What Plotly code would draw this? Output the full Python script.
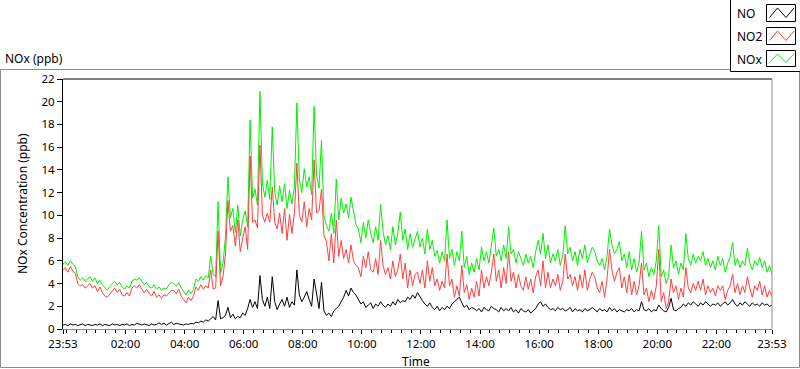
import plotly.graph_objects as go
import pandas as pd

# ---------------- data (5-minute samples, 23:53 -> 23:53 next day) ----------------
start_time = "2013-06-10 23:53"
n_points = 289
step = "5min"

nox = [
    5.7, 5.9, 5.6, 6.0, 5.7, 5.5, 4.6, 4.3, 4.5, 4.2, 4.4, 4.6,
    4.2, 4.5, 4.0, 4.3, 3.9, 3.6, 3.4, 3.7, 4.0, 4.2, 3.9, 4.1,
    3.7, 3.5, 3.8, 3.6, 4.2, 4.4, 4.3, 4.5, 4.2, 3.9, 4.1, 3.7,
    3.6, 3.9, 3.5, 3.7, 3.4, 3.6, 3.5, 3.9, 4.1, 4.0, 3.8, 4.1,
    3.6, 3.3, 3.0, 3.4, 3.1, 3.5, 4.4, 4.2, 4.6, 4.3, 4.7, 4.5,
    6.4, 4.8, 4.6, 11.2, 4.9, 5.8, 8.1, 13.4, 9.8, 10.6, 8.5, 10.9,
    8.2, 9.6, 10.4, 9.0, 18.4, 11.5, 12.3, 10.9, 20.9, 12.8, 11.6, 13.1,
    11.4, 17.8, 12.0, 10.9, 12.6, 11.2, 12.8, 10.6, 12.2, 11.0, 12.5, 19.9,
    13.2, 12.0, 14.1, 12.5, 13.4, 11.8, 19.6, 13.5, 12.4, 16.6, 10.0, 9.1,
    8.6, 10.2, 8.4, 13.2, 9.6, 11.5, 10.2, 11.0, 9.8, 11.6, 10.4, 9.2,
    8.8, 7.6, 9.4, 8.0, 9.6, 8.4, 7.6, 9.0, 7.8, 11.0, 8.6, 7.4,
    8.2, 7.0, 9.0, 7.4, 8.4, 10.3, 7.8, 8.8, 7.0, 8.4, 7.2, 8.0,
    8.6, 7.2, 8.0, 6.6, 8.8, 7.0, 7.8, 6.4, 6.9, 5.8, 6.8, 6.0,
    9.6, 6.2, 7.0, 5.6, 6.8, 6.0, 8.6, 5.4, 6.4, 4.8, 5.8, 5.0,
    6.2, 5.2, 7.2, 6.0, 6.8, 5.8, 7.4, 8.9, 6.4, 7.0, 6.0, 7.4,
    6.2, 9.0, 6.6, 7.0, 5.8, 6.8, 6.2, 5.6, 6.6, 5.8, 6.4, 5.4,
    6.8, 7.8, 6.6, 8.4, 6.2, 7.4, 5.8, 6.6, 6.0, 7.0, 5.6, 6.4,
    9.1, 6.6, 7.2, 6.0, 6.8, 5.6, 7.0, 6.2, 7.4, 5.8, 6.6, 7.2,
    6.8, 6.0, 5.6, 6.2, 5.2, 6.4, 8.8, 7.4, 6.6, 7.0, 7.7, 6.0,
    6.6, 5.4, 6.8, 5.2, 6.2, 5.0, 5.8, 8.6, 5.2, 5.8, 4.6, 5.4,
    4.8, 6.0, 9.1, 4.6, 5.2, 4.0, 4.6, 7.4, 5.4, 6.0, 4.8, 5.8,
    5.2, 8.4, 6.2, 5.6, 6.6, 5.8, 6.4, 6.0, 6.8, 5.6, 6.2, 5.4,
    6.0, 5.2, 6.4, 5.6, 6.2, 5.0, 5.8, 6.4, 7.6, 5.6, 6.2, 5.4,
    6.0, 5.6, 7.1, 5.8, 5.2, 6.0, 5.6, 6.3, 5.4, 6.0, 5.0, 5.6,
    4.8,
]

no2 = [
    5.2, 5.4, 5.0, 5.5, 5.1, 4.9, 4.0, 3.8, 3.9, 3.6, 3.8, 4.0,
    3.6, 3.8, 3.3, 3.7, 3.2, 2.9, 2.8, 3.1, 3.4, 3.6, 3.2, 3.5,
    3.0, 2.9, 3.2, 2.9, 3.6, 3.8, 3.6, 3.9, 3.5, 3.2, 3.5, 3.1,
    2.9, 3.3, 2.8, 3.0, 2.7, 3.0, 2.9, 3.2, 3.4, 3.4, 3.1, 3.5,
    2.9, 2.6, 2.3, 2.8, 2.5, 2.9, 3.7, 3.4, 3.9, 3.5, 3.8, 3.6,
    5.2, 3.5, 3.6, 8.6, 3.8, 4.6, 6.6, 11.3, 8.6, 9.1, 7.3, 9.6,
    6.8, 8.0, 9.0, 7.0, 15.2, 9.4, 9.6, 8.9, 16.2, 10.0, 9.4, 10.2,
    9.4, 12.5, 9.4, 8.8, 10.2, 8.4, 10.6, 7.8, 10.1, 8.4, 10.2, 14.6,
    10.0, 9.4, 11.2, 9.0, 10.6, 9.6, 14.9, 10.2, 10.4, 12.3, 8.2, 7.7,
    6.0, 8.4, 5.8, 9.6, 6.4, 7.8, 6.2, 7.0, 5.8, 7.4, 6.0, 5.6,
    5.4, 4.6, 6.4, 5.4, 6.8, 5.2, 5.0, 6.2, 4.8, 7.8, 5.6, 4.8,
    5.4, 4.4, 6.0, 4.6, 5.2, 6.6, 4.4, 5.8, 3.6, 5.2, 3.8, 4.8,
    5.0, 4.0, 5.2, 3.6, 6.0, 4.2, 5.4, 3.8, 4.4, 3.4, 4.2, 3.6,
    6.6, 3.8, 4.4, 2.8, 3.8, 2.9, 5.6, 3.2, 3.9, 2.6, 3.6, 2.8,
    4.2, 2.9, 5.2, 3.6, 4.6, 3.8, 5.0, 6.6, 4.2, 5.2, 3.6, 5.4,
    4.0, 6.8, 4.2, 5.0, 3.6, 4.8, 3.8, 3.4, 4.6, 3.5, 4.4, 3.2,
    4.6, 5.2, 3.8, 6.0, 3.6, 5.0, 3.6, 4.4, 3.8, 4.8, 3.4, 4.2,
    6.6, 4.4, 4.8, 3.8, 4.6, 3.4, 4.8, 3.6, 5.2, 3.4, 4.4, 5.0,
    4.6, 3.6, 3.2, 4.2, 2.8, 4.4, 7.0, 5.2, 4.2, 5.0, 5.4, 3.6,
    4.6, 3.2, 4.8, 3.0, 4.2, 3.0, 3.8, 5.8, 3.0, 3.6, 2.4, 3.4,
    2.6, 3.8, 7.0, 2.4, 3.2, 1.8, 2.4, 4.4, 3.2, 3.8, 2.6, 3.6,
    2.8, 5.4, 3.6, 3.2, 4.0, 3.4, 4.2, 3.4, 4.4, 3.0, 3.8, 3.2,
    3.6, 2.9, 3.8, 3.4, 3.8, 2.6, 3.4, 3.8, 4.8, 3.2, 4.0, 3.0,
    3.8, 3.2, 4.6, 3.6, 2.8, 3.8, 3.4, 4.2, 3.0, 3.8, 2.8, 3.4,
    2.8,
]

no = [
    0.35, 0.4, 0.3, 0.45, 0.35, 0.4, 0.3, 0.35, 0.45, 0.3, 0.4, 0.35,
    0.3, 0.4, 0.35, 0.45, 0.3, 0.4, 0.35, 0.3, 0.45, 0.35, 0.4, 0.3,
    0.4, 0.35, 0.45, 0.3, 0.4, 0.35, 0.5, 0.4, 0.35, 0.45, 0.4, 0.3,
    0.45, 0.35, 0.4, 0.55, 0.4, 0.5, 0.35, 0.45, 0.6, 0.4, 0.5, 0.45,
    0.4, 0.35, 0.45, 0.4, 0.5, 0.45, 0.6, 0.55, 0.7, 0.6, 0.8, 0.7,
    0.9, 1.1, 0.8, 2.5, 0.9, 1.0, 1.2, 1.9, 1.0, 1.3, 0.9, 1.1,
    1.0, 1.4, 1.2, 1.8, 2.6, 1.9, 2.4, 1.8, 4.7, 2.6, 2.0, 2.8,
    1.8, 4.6, 2.4, 1.7, 2.2, 2.6, 2.0, 2.8, 1.9, 2.4, 2.1, 5.2,
    3.0, 2.4, 2.8, 3.3, 2.6, 2.0, 4.4, 3.2, 1.8, 4.1, 1.6, 1.2,
    1.4, 1.1, 1.6, 1.8, 2.0, 2.4, 2.8, 3.4, 2.9, 3.6, 3.2, 3.0,
    2.6, 2.2, 2.4, 1.9, 2.1, 2.3, 1.8, 2.2, 2.0, 2.4, 2.1, 1.9,
    2.2, 2.0, 2.4, 2.1, 2.6, 2.3, 2.5, 2.4, 2.8, 2.6, 3.0, 2.7,
    3.2, 2.8, 2.5, 2.2, 2.0, 2.3, 1.9, 1.7, 2.0, 1.6, 1.9, 1.7,
    2.0, 1.8, 2.2, 2.4, 2.6, 2.8, 2.3, 1.9, 2.1, 1.7, 1.9, 1.8,
    1.6, 1.8, 1.5, 1.9, 1.7, 1.6, 2.0, 1.8, 1.7, 1.5, 1.9, 1.6,
    1.8, 1.6, 1.9, 1.5, 1.7, 1.4, 1.8, 1.6, 1.5, 1.7, 1.4, 1.6,
    1.8, 2.2, 2.4, 2.0, 2.2, 1.9, 1.7, 1.8, 1.6, 1.9, 1.7, 1.8,
    1.6, 1.7, 1.9, 1.5, 1.8, 1.6, 1.7, 1.5, 1.8, 1.6, 1.7, 1.9,
    1.7, 1.5, 1.8, 1.6, 1.7, 1.5, 1.9, 1.6, 1.8, 1.5, 1.7, 1.6,
    1.5, 1.7, 1.6, 1.8, 1.5, 1.7, 1.6, 2.4, 1.7, 1.6, 1.8, 1.5,
    1.7, 1.6, 2.1, 1.8, 1.6, 1.5, 1.9, 2.7, 1.7, 1.6, 1.8, 1.9,
    2.2, 2.0, 2.3, 2.1, 2.4, 2.2, 2.0, 2.3, 2.1, 2.4, 2.2, 2.0,
    2.2, 2.1, 2.3, 2.0, 2.2, 2.4, 2.1, 2.3, 2.6, 2.2, 2.0, 2.3,
    2.1, 2.4, 2.2, 2.0, 2.3, 2.1, 2.2, 2.0, 2.3, 2.1, 2.2, 2.0,
    2.1,
]

tick_times = ["2013-06-10 23:53", "2013-06-11 02:00", "2013-06-11 04:00",
              "2013-06-11 06:00", "2013-06-11 08:00", "2013-06-11 10:00",
              "2013-06-11 12:00", "2013-06-11 14:00", "2013-06-11 16:00",
              "2013-06-11 18:00", "2013-06-11 20:00", "2013-06-11 22:00",
              "2013-06-11 23:53"]
tick_labels = ["23:53", "02:00", "04:00", "06:00", "08:00", "10:00", "12:00",
               "14:00", "16:00", "18:00", "20:00", "22:00", "23:53"]
y_ticks = [0, 2, 4, 6, 8, 10, 12, 14, 16, 18, 20, 22]

series_names = ["NO", "NO2", "NOx"]
series_colors = ["#000000", "#FF4040", "#00F000"]

times = pd.date_range(start_time, periods=n_points, freq=step)

# ---------------- layout geometry (pixels) ----------------
W, H = 800, 369
L, R, T, B = 63, 772, 79, 329
FONT = "Noto Sans"
TICKSIZE = 11.5


def px(x):
    return (x - L) / (R - L)


def py(y):
    return (B - y) / (B - T)


fig = go.Figure()
# draw NOx first, then NO2, then NO on top
for name, vals, col in [("NOx", nox, series_colors[2]),
                        ("NO2", no2, series_colors[1]),
                        ("NO", no, series_colors[0])]:
    fig.add_trace(go.Scatter(x=times, y=vals, mode="lines", name=name,
                             line=dict(color=col, width=1),
                             showlegend=False, hoverinfo="skip"))

shapes = []
# outer grey frame
shapes.append(dict(type="rect", xref="paper", yref="paper",
                   x0=px(0.5), x1=px(799.5), y0=py(367.5), y1=py(69.5),
                   line=dict(color="#8C8C8C", width=1), fillcolor="rgba(0,0,0,0)",
                   layer="below"))
# plot area borders: top black, right grey
shapes.append(dict(type="line", xref="paper", yref="paper",
                   x0=0, x1=1, y0=1, y1=1, line=dict(color="#000000", width=1)))
shapes.append(dict(type="line", xref="paper", yref="paper",
                   x0=1, x1=1, y0=0, y1=1, line=dict(color="#8C8C8C", width=1)))
# legend box
shapes.append(dict(type="rect", xref="paper", yref="paper",
                   x0=px(730.5), x1=px(800.5), y0=py(71.5), y1=py(-1),
                   line=dict(color="#000000", width=1), fillcolor="#FFFFFF"))

annotations = []
box_tops = [4.5, 27.5, 50.5]
box_bots = [21.5, 44.5, 66.5]
text_y = [13.5, 36.5, 59.5]
for name, col, yt, yb, ty in zip(series_names, series_colors, box_tops, box_bots, text_y):
    shapes.append(dict(type="rect", xref="paper", yref="paper",
                       x0=px(766.5), x1=px(795.5), y0=py(yb), y1=py(yt),
                       line=dict(color="#000000", width=1), fillcolor="#FFFFFF"))
    pts = [(769.5, yb - 4), (777.5, yt + 3.5), (786, yb - 4), (794, yt + 3.5)]
    path = "M " + " L ".join(f"{px(a)},{py(b)}" for a, b in pts)
    shapes.append(dict(type="path", xref="paper", yref="paper", path=path,
                       line=dict(color=col, width=1)))
    annotations.append(dict(text=name, xref="paper", yref="paper",
                            x=px(735), y=py(ty), xanchor="left", yanchor="middle",
                            showarrow=False, font=dict(family=FONT, size=12, color="#000000")))

annotations.append(dict(text="NOx (ppb)", xref="paper", yref="paper",
                        x=px(3), y=py(59), xanchor="left", yanchor="middle",
                        showarrow=False, font=dict(family=FONT, size=12, color="#000000")))
annotations.append(dict(text="NOx Concentration (ppb)", xref="paper", yref="paper",
                        x=px(22), y=py(204), xanchor="center", yanchor="middle",
                        textangle=-90, showarrow=False,
                        font=dict(family=FONT, size=12, color="#000000")))
annotations.append(dict(text="Time", xref="paper", yref="paper",
                        x=px(416), y=py(361), xanchor="center", yanchor="middle",
                        showarrow=False, font=dict(family=FONT, size=12, color="#000000")))

fig.update_layout(
    width=W, height=H,
    margin=dict(l=L, r=W - R, t=T, b=H - B, pad=0, autoexpand=False),
    paper_bgcolor="#FFFFFF", plot_bgcolor="#FFFFFF",
    font=dict(family=FONT, size=12, color="#000000"),
    shapes=shapes, annotations=annotations,
    xaxis=dict(type="date", range=[tick_times[0], tick_times[-1]],
               tickmode="array", tickvals=tick_times, ticktext=tick_labels,
               showgrid=False, zeroline=False,
               showline=True, linecolor="#8C8C8C", linewidth=1,
               ticks="outside", ticklen=4, tickcolor="#000000", tickwidth=1,
               tickfont=dict(family=FONT, size=TICKSIZE, color="#000000"),
               minor=dict(ticks="outside", ticklen=3, tickcolor="#000000",
                          dtick=20 * 60 * 1000, tick0="2013-06-11 00:00",
                          showgrid=False)),
    yaxis=dict(range=[0, 22], tickmode="array", tickvals=y_ticks,
               showgrid=False, zeroline=False,
               showline=True, linecolor="#000000", linewidth=1,
               ticks="outside", ticklen=5, tickcolor="#000000", tickwidth=1,
               tickfont=dict(family=FONT, size=TICKSIZE, color="#000000")),
)

fig.write_html("out.html", config={"displayModeBar": False},
               post_script="document.body.style.margin='0';document.body.style.overflow='hidden';")
